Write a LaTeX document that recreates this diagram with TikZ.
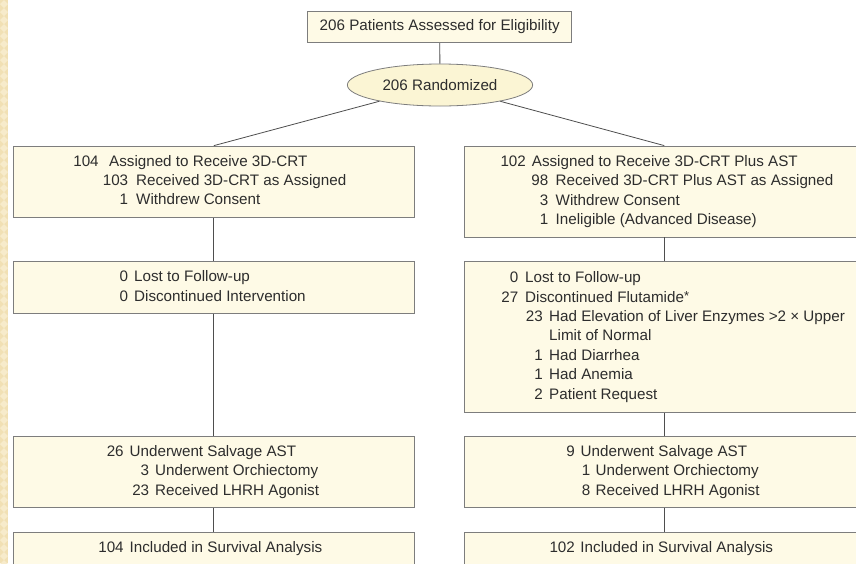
\documentclass[tikz,border=0pt]{standalone}
\usepackage{fontspec}
\setmainfont{Liberation Sans}
\usetikzlibrary{shapes.geometric}

\definecolor{boxfill}{RGB}{254,250,230}
\definecolor{ovalfill}{RGB}{251,245,212}
\definecolor{edge}{RGB}{125,125,125}
\definecolor{wire}{RGB}{78,78,78}
\definecolor{ink}{RGB}{45,45,45}
\definecolor{stripe}{RGB}{241,224,180}
\definecolor{stripelight}{RGB}{247,235,203}

% one list entry: number right-aligned at x=#1, text starting at x=#3
% (absolute picture coordinates; \bx is the left edge of the list block)
\newcommand\bx{0}
\newcommand\setblock[1]{\gdef\bx{#1}}
\newcommand\itm[4]{\strut\makebox[\dimexpr#1pt-\bx pt\relax][r]{#2}%
  \makebox[\dimexpr#3pt-#1pt\relax]{}#4}
\newcommand\fnmark{\raisebox{2pt}{\fontsize{13}{13}\selectfont *}}

\tikzset{
  box/.style={rectangle, draw=edge, fill=boxfill, line width=0.8pt, inner sep=0pt},
  oval/.style={ellipse, draw=edge, fill=ovalfill, line width=0.8pt, inner sep=0pt},
  listtext/.style={anchor=west, inner sep=0pt, align=left, text=ink,
    font=\fontsize{15.2}{19.4}\selectfont},
  wire/.style={draw=wire, line width=0.8pt},
}

\begin{document}
\begin{tikzpicture}[x=1pt,y=-1pt]
\useasboundingbox (0,0) rectangle (856,563);
\fill[white] (0,0) rectangle (856,563);

% decorative margin stripe
\fill[stripe] (0,0) rectangle (8,563);
\foreach \k in {0,...,70}{
  \fill[stripelight] (4,\k*8) -- (8,\k*8+4) -- (4,\k*8+8) -- (0,\k*8+4) -- cycle;
}

% enrollment
\node[box, minimum width=264pt, minimum height=31.7pt, text=ink,
      font=\fontsize{15.2}{18}\selectfont] (assess) at (439.7,26.8)
      {206 Patients Assessed for Eligibility};
\node[oval, minimum width=185.3pt, minimum height=42pt, text=ink,
      font=\fontsize{15.2}{18}\selectfont] (rand) at (440,85) {206 Randomized};

% arm boxes, left (3D-CRT) and right (3D-CRT plus AST)
\node[box, minimum width=401pt, minimum height=71.3pt] (l1) at (213.8,181.7) {};
\node[box, minimum width=401pt, minimum height=51.6pt] (l2) at (213.8,287.5) {};
\node[box, minimum width=401pt, minimum height=70.7pt] (l3) at (213.8,471.8) {};
\node[box, minimum width=401pt, minimum height=32pt]   (l4) at (213.8,548.5) {};

\node[box, minimum width=399.5pt, minimum height=91pt]   (r1) at (664.25,191.5) {};
\node[box, minimum width=399.5pt, minimum height=150.3pt] (r2) at (664.25,337) {};
\node[box, minimum width=399.5pt, minimum height=70.7pt] (r3) at (664.25,471.8) {};
\node[box, minimum width=399.5pt, minimum height=32pt]   (r4) at (664.25,548.5) {};

% connectors
\draw[wire] (assess) -- (rand);
\draw[wire] (rand) -- (l1.north);
\draw[wire] (rand) -- (r1.north);
\draw[wire] (l1.south) -- (l2.north);
\draw[wire] (l2.south) -- (l3.north);
\draw[wire] (l3.south) -- (l4.north);
\draw[wire] (r1.south) -- (r2.north);
\draw[wire] (r2.south) -- (r3.north);
\draw[wire] (r3.south) -- (r4.north);

% left arm text
\setblock{60}
\node[listtext] (l1text) at (60,181.7) {%
  \itm{98.5}{104}{109}{Assigned to Receive 3D-CRT}\\
  \itm{128}{103}{136}{Received 3D-CRT as Assigned}\\
  \itm{128}{1}{136}{Withdrew Consent}};
\setblock{110}
\node[listtext] (l2text) at (110,287.5) {%
  \itm{128}{0}{134}{Lost to Follow-up}\\
  \itm{128}{0}{134}{Discontinued Intervention}};
\setblock{100}
\node[listtext] (l3text) at (100,471.8) {%
  \itm{123.5}{26}{129.5}{Underwent Salvage AST}\\
  \itm{149}{3}{155}{Underwent Orchiectomy}\\
  \itm{149}{23}{155}{Received LHRH Agonist}};
\setblock{90}
\node[listtext] (l4text) at (90,548.3) {%
  \itm{123.5}{104}{129.5}{Included in Survival Analysis}};

% right arm text
\setblock{495}
\node[listtext] (r1text) at (495,191.5) {%
  \itm{525.7}{102}{531.7}{Assigned to Receive 3D-CRT Plus AST}\\
  \itm{548}{98}{555.5}{Received 3D-CRT Plus AST as Assigned}\\
  \itm{548}{3}{555.5}{Withdrew Consent}\\
  \itm{548}{1}{555.5}{Ineligible (Advanced Disease)}};
\setblock{500}
\node[listtext] (r2text) at (500,337) {%
  \itm{518}{0}{525}{Lost to Follow-up}\\
  \itm{518}{27}{525}{Discontinued Flutamide\fnmark}\\
  \itm{542.5}{23}{549}{Had Elevation of Liver Enzymes >2 × Upper}\\
  \itm{542.5}{}{549}{Limit of Normal}\\
  \itm{542.5}{1}{549}{Had Diarrhea}\\
  \itm{542.5}{1}{549}{Had Anemia}\\
  \itm{542.5}{2}{549}{Patient Request}};
\setblock{560}
\node[listtext] (r3text) at (560,471.8) {%
  \itm{574.7}{9}{580.5}{Underwent Salvage AST}\\
  \itm{590}{1}{595.5}{Underwent Orchiectomy}\\
  \itm{590}{8}{595.5}{Received LHRH Agonist}};
\setblock{540}
\node[listtext] (r4text) at (540,548.3) {%
  \itm{574.7}{102}{580.3}{Included in Survival Analysis}};
\end{tikzpicture}
\end{document}
